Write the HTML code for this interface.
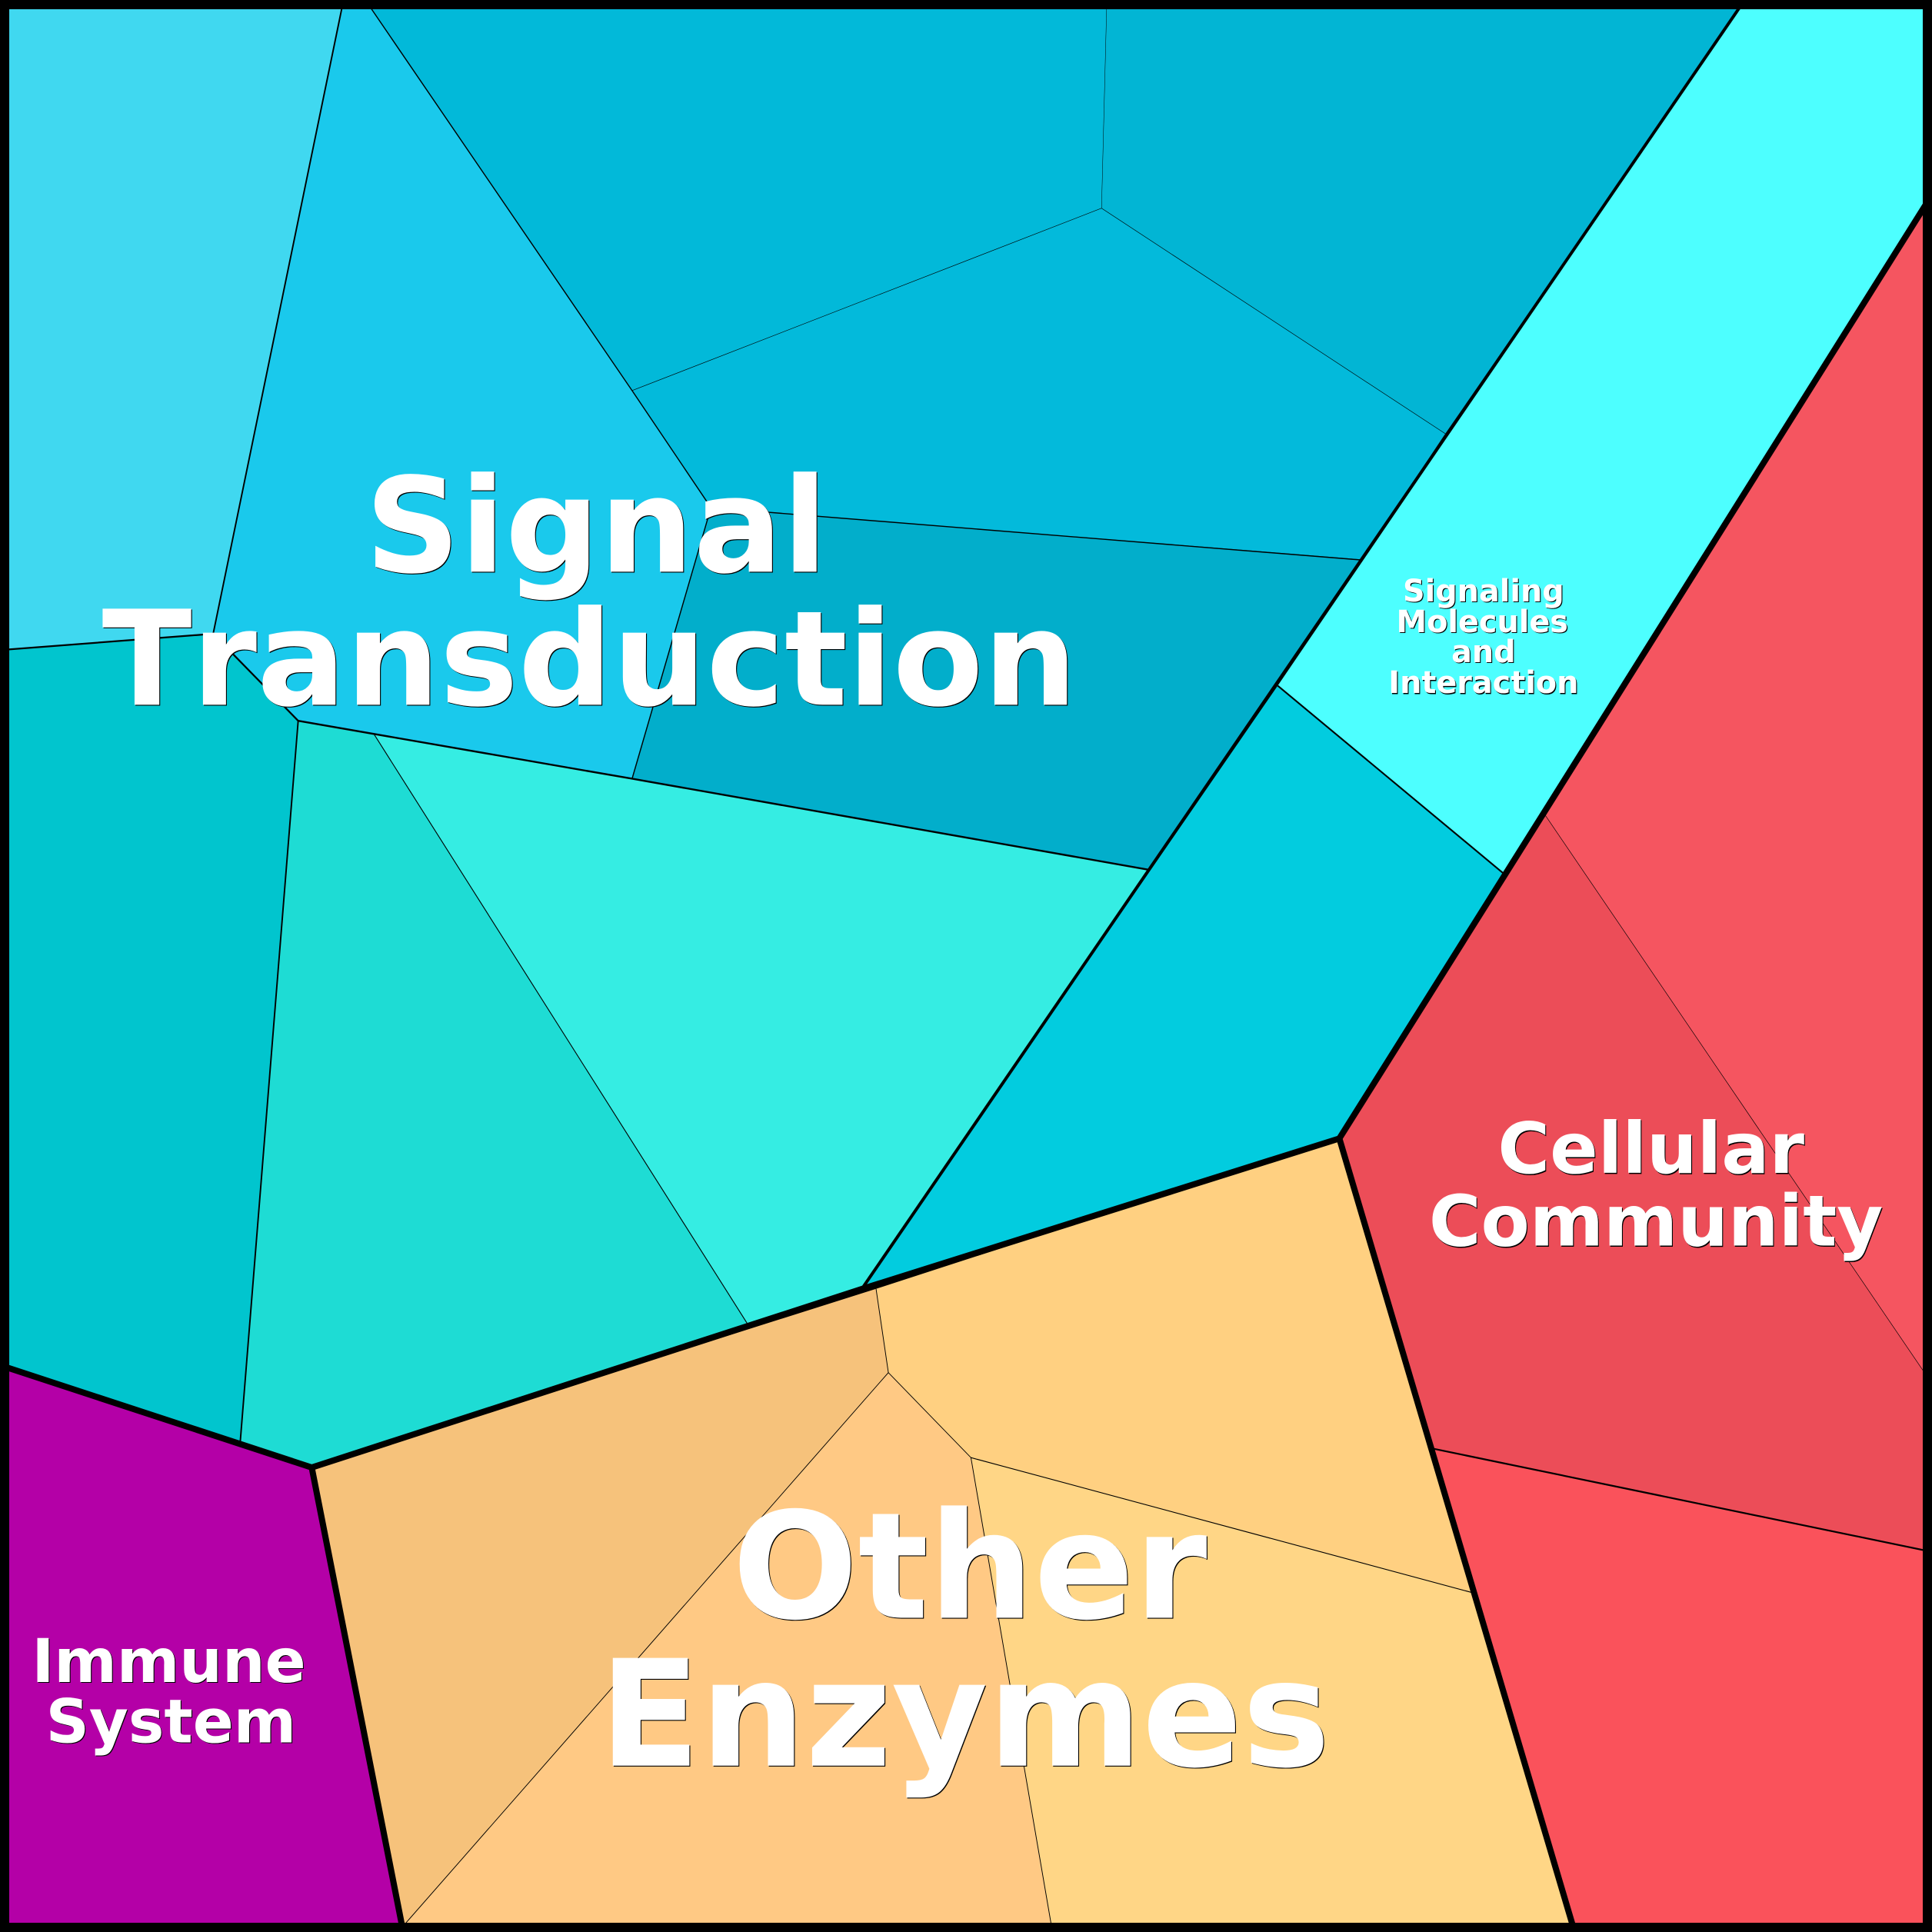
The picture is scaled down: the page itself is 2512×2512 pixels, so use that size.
<!DOCTYPE html>
<html><head><meta charset="utf-8"><style>
html,body{margin:0;padding:0;background:#000}
svg{display:block}
text{font-family:"DejaVu Sans",sans-serif;font-weight:bold;text-anchor:middle;font-kerning:none;font-feature-settings:"kern" 0}
.s{fill:#000;transform:translate(.7px,.7px)}
.w{fill:#fff}
</style></head><body>
<svg width="2512" height="2512" viewBox="0 0 1568 1568" xmlns="http://www.w3.org/2000/svg">
<g stroke="none">
<polygon fill="#40D8F0" points="0,0 278.8,0 173,514.4 0,527.6"/>
<polygon fill="#1AC9EC" points="278.8,0 296.5,0 513,317 577,412 513,632 303,595 242,585 173,514.4"/>
<polygon fill="#02B9D9" points="296.5,0 898.3,0 894,169 513,317"/>
<polygon fill="#02B5D4" points="898.3,0 1416,0 1173,352 894,169"/>
<polygon fill="#03BADB" points="513,317 894,169 1173,352 1105,454 577,412"/>
<polygon fill="#02AECB" points="577,412 1105,454 933,706 513,632"/>
<polygon fill="#01C5CE" points="0,527.6 173,514.4 242,585 195,1170 0,1108"/>
<polygon fill="#1EDCD4" points="242,585 303,595 607,1075 253,1191 195,1170"/>
<polygon fill="#35EDE3" points="303,595 513,632 933,706 699.5,1046 607,1075"/>
<polygon fill="#02CCDF" points="1037,556.5 1221,709.5 1087,924 699.5,1046"/>
<polygon fill="#4DFFFF" points="1416,0 1568,0 1568,158 1221,709.5 1037,556.5"/>
<polygon fill="#F55560" points="1568,158 1568,1123 1253,660"/>
<polygon fill="#EC4D58" points="1253,660 1568,1123 1568,1259.5 1162,1175.5 1087,924"/>
<polygon fill="#FA525B" points="1162,1175.5 1568,1259.5 1568,1568 1278,1568"/>
<polygon fill="#B400A7" points="0,1108 253,1191 327.3,1568 0,1568"/>
<polygon fill="#F6C27B" points="253,1191 711,1046 721,1114 323,1568 327.3,1568"/>
<polygon fill="#FFC984" points="721,1114 788,1183 854.2,1568 323,1568"/>
<polygon fill="#FFD081" points="711,1046 1087,924 1196.5,1293 788,1183 721,1114"/>
<polygon fill="#FFD686" points="788,1183 1196.5,1293 1278,1568 854.2,1568"/>
</g>
<g fill="none" stroke="#000" stroke-linejoin="miter">
<line stroke-width="1.2" x1="278.8" y1="0" x2="173" y2="514.4"/>
<polyline stroke-width="1.4" points="0,527.6 173,514.4 242,585"/>
<line stroke-width="1.2" x1="242" y1="585" x2="195" y2="1170"/>
<line stroke-width="0.7" x1="303" y1="595" x2="607" y2="1075"/>
<polyline stroke-width="0.9" points="296.5,0 513,317 577,412 513,632"/>
<line stroke-width="0.3" x1="898.3" y1="0" x2="894" y2="169"/>
<polyline stroke-width="0.4" points="513,317 894,169 1173,352"/>
<line stroke-width="0.9" x1="577" y1="412" x2="1105" y2="454.5"/>
<polyline stroke-width="1.5" points="242,585 513,632 933,706"/>
<line stroke-width="2.5" x1="1416" y1="0" x2="699.5" y2="1046"/>
<line stroke-width="1.3" x1="1037" y1="556.5" x2="1221" y2="709.5"/>
<line stroke-width="0.4" x1="1253" y1="660" x2="1568" y2="1123"/>
<line stroke-width="1.4" x1="1162" y1="1175.5" x2="1568" y2="1259.5"/>
<polyline stroke-width="0.6" points="711,1046 721,1114 323,1568"/>
<polyline stroke-width="0.6" points="721,1114 788,1183 854.2,1568"/>
<line stroke-width="0.7" x1="788" y1="1183" x2="1196.5" y2="1293"/>
<polyline stroke-width="5" points="0,1108 253,1191 700,1046 1087,924 1568,158"/>
<line stroke-width="5" x1="253" y1="1191" x2="327.3" y2="1568"/>
<line stroke-width="5" x1="1087" y1="924" x2="1278" y2="1568"/>
<rect x="0" y="0" width="1568" height="1568" stroke-width="15"/>
</g>
<text class="s" font-size="107" x="484" y="464">Signal</text>
<text class="s" font-size="107" x="478.5" y="572">Transduction</text>
<text class="w" font-size="107" x="484" y="464">Signal</text>
<text class="w" font-size="107" x="478.5" y="572">Transduction</text>
<text class="s" font-size="120" x="787" y="1313">Other</text>
<text class="s" font-size="120" x="783" y="1433">Enzymes</text>
<text class="w" font-size="120" x="787" y="1313">Other</text>
<text class="w" font-size="120" x="783" y="1433">Enzymes</text>
<text class="s" font-size="57.6" x="1340" y="952">Cellular</text>
<text class="s" font-size="57.6" x="1344" y="1011">Community</text>
<text class="w" font-size="57.6" x="1340" y="952">Cellular</text>
<text class="w" font-size="57.6" x="1344" y="1011">Community</text>
<text class="s" font-size="48.8" x="137" y="1365">Immune</text>
<text class="s" font-size="48.8" x="138.8" y="1414">System</text>
<text class="w" font-size="48.8" x="137" y="1365">Immune</text>
<text class="w" font-size="48.8" x="138.8" y="1414">System</text>
<text class="s" font-size="24.8" x="1204" y="488">Signaling</text>
<text class="s" font-size="24.8" x="1203" y="513">Molecules</text>
<text class="s" font-size="24.8" x="1204" y="537.5">and</text>
<text class="s" font-size="24.8" x="1204" y="562.5">Interaction</text>
<text class="w" font-size="24.8" x="1204" y="488">Signaling</text>
<text class="w" font-size="24.8" x="1203" y="513">Molecules</text>
<text class="w" font-size="24.8" x="1204" y="537.5">and</text>
<text class="w" font-size="24.8" x="1204" y="562.5">Interaction</text>
</svg>
</body></html>
